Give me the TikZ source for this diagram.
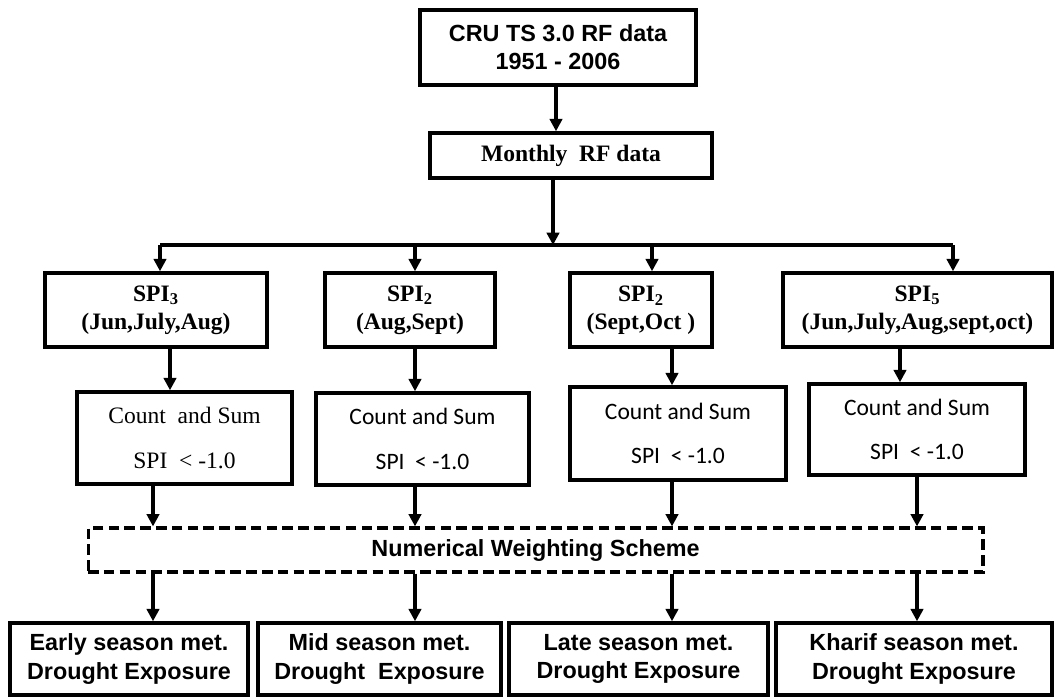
\documentclass[tikz,border=0pt]{standalone}
\usepackage{fontspec}
\setmainfont{Liberation Serif}
\newfontfamily\arialfont{Liberation Sans}
\newfontfamily\calibrifont{Carlito}
\usetikzlibrary{arrows.meta}

\begin{document}
\begin{tikzpicture}[x=0.02cm, y=-0.02cm,
            box/.style={draw, line width=2pt, inner sep=0, align=center,
                font=\bfseries\fontsize{13.4}{16}\selectfont},
            sansbox/.style={box, font=\arialfont\bfseries\fontsize{13.3}{16}\selectfont},
            countbox/.style={box, font=\calibrifont\fontsize{13.4}{25.5}\selectfont},
            arr/.style={-{Triangle[length=7pt,width=7pt]}, line width=1.8pt}]
        \useasboundingbox (0,0) rectangle (1057,697);

        % source data
        \node[sansbox, line width=2.4pt, minimum width=5.52cm, minimum height=1.5cm] (raw) at (558,47.5) {CRU TS 3.0 RF data\\1951 - 2006};
        \node[box, minimum width=5.64cm, minimum height=0.9cm] (monthly) at (571,155.5) {Monthly~ RF data};
        \draw[arr] (raw.south -| 556,0) -- (monthly.north -| 556,0);

        % SPI time scales
        \node[box, minimum width=4.44cm, minimum height=1.48cm] (spiA) at (156,310) {SPI\textsubscript{3}\\(Jun,July,Aug)};
        \node[box, minimum width=3.4cm, minimum height=1.48cm] (spiB) at (410,310) {SPI\textsubscript{2}\\(Aug,Sept)};
        \node[box, minimum width=2.84cm, minimum height=1.48cm] (spiC) at (641,310) {SPI\textsubscript{2}\\(Sept,Oct )};
        \node[box, minimum width=5.38cm, minimum height=1.48cm] (spiD) at (917.5,310) {SPI\textsubscript{5}\\(Jun,July,Aug,sept,oct)};

        \coordinate (split) at (553,245);
        \coordinate (busA) at (160,245);
        \coordinate (busB) at (415,245);
        \coordinate (busC) at (652,245);
        \coordinate (busD) at (953,245);
        \draw[arr] (monthly.south -| split) -- (split);
        \draw[line width=1.8pt] (busA) -- (busD);
        \draw[arr] (busA) -- (busA |- spiA.north);
        \draw[arr] (busB) -- (busB |- spiB.north);
        \draw[arr] (busC) -- (busC |- spiC.north);
        \draw[arr] (busD) -- (busD |- spiD.north);

        % counting
        \node[countbox, font=\rmfamily\fontsize{13.4}{25.5}\selectfont, minimum width=4.3cm, minimum height=1.84cm] (cntA) at (184.5,438) {Count~ and Sum\\SPI~ < -1.0};
        \node[countbox, minimum width=4.26cm, minimum height=1.84cm] (cntB) at (422.5,439) {Count and Sum\\SPI~ < -1.0};
        \node[countbox, minimum width=4.32cm, minimum height=1.86cm] (cntC) at (678,433.5) {Count and Sum\\SPI~ < -1.0};
        \node[countbox, minimum width=4.32cm, minimum height=1.82cm] (cntD) at (917,429.5) {Count and Sum\\SPI~ < -1.0};
        \draw[arr] (spiA.south -| 170,0) -- (cntA.north -| 170,0);
        \draw[arr] (spiB.south -| 415,0) -- (cntB.north -| 415,0);
        \draw[arr] (spiC.south -| 672,0) -- (cntC.north -| 672,0);
        \draw[arr] (spiD.south -| 900,0) -- (cntD.north -| 900,0);

        % weighting and exposure
        \node[sansbox, dashed, dash pattern=on 6pt off 3pt, line width=1.8pt, minimum width=17.9cm, minimum height=0.88cm] (weight) at (535.5,550) {Numerical Weighting Scheme};

        \node[sansbox, minimum width=4.76cm, minimum height=1.44cm] (outA) at (129,659) {Early season met.\\Drought Exposure};
        \node[sansbox, minimum width=4.86cm, minimum height=1.44cm] (outB) at (379.5,659) {Mid season met.\\Drought~ Exposure};
        \node[sansbox, minimum width=5.18cm, minimum height=1.44cm] (outC) at (638.5,659) {Late season met.\\Drought Exposure};
        \node[sansbox, minimum width=5.52cm, minimum height=1.44cm] (outD) at (914,659) {Kharif season met.\\Drought Exposure};

        \foreach \c/\o/\x in {cntA/outA/153, cntB/outB/415, cntC/outC/672, cntD/outD/917} {
            \draw[arr] (\c.south -| \x,0) -- (weight.north -| \x,0);
            \draw[arr] (weight.south -| \x,0) -- (\o.north -| \x,0);
        }
    \end{tikzpicture}
\end{document}
